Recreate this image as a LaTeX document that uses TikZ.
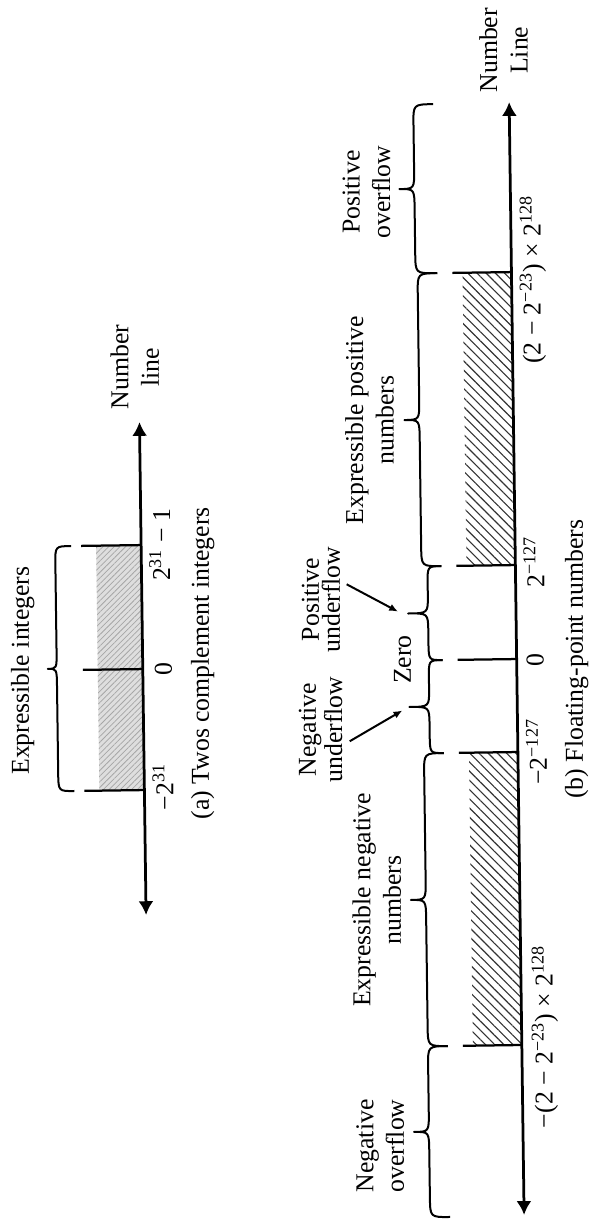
\documentclass[tikz,border=0pt]{standalone}
\usepackage{fontspec}
\setmainfont{Liberation Serif}
\usetikzlibrary{arrows.meta,patterns.meta}
% #1 tip x, #2 top y, #3 bottom y, #4 arm offset, #5 point offset, #6 corner length
\newcommand\bzbrace[6]{%
  \pgfmathsetmacro\bzxa{#1-#4}%
  \pgfmathsetmacro\bzxp{#1-#5}%
  \pgfmathsetmacro\bzym{(#2+#3)/2}%
  \pgfmathsetmacro\bzya{#2+#6}%
  \pgfmathsetmacro\bzyb{\bzym-#6}%
  \pgfmathsetmacro\bzyc{\bzym+#6}%
  \pgfmathsetmacro\bzyd{#3-#6}%
  \draw[bracestyle] (#1,#2) .. controls (\bzxa,#2) .. (\bzxa,\bzya) -- (\bzxa,\bzyb)
     .. controls (\bzxa,\bzym) .. (\bzxp,\bzym) .. controls (\bzxa,\bzym) .. (\bzxa,\bzyc)
     -- (\bzxa,\bzyd) .. controls (\bzxa,#3) .. (#1,#3);%
}
\begin{document}
\begin{tikzpicture}[x=0.4pt,y=-0.4pt,
  lbl/.style={rotate=90,align=center,inner sep=0pt,font=\fontsize{10.3}{12.2}\selectfont},
  tightlbl/.style={lbl,font=\fontsize{10.3}{8.4}\selectfont},
  ticklbl/.style={rotate=90,inner sep=0pt,anchor=base,font=\fontsize{10.3}{12}\selectfont},
  numline/.style={line width=1.1pt,<->,>={Latex[length=5.5pt,width=6pt]}},
  tickline/.style={line width=0.9pt},
  bracestyle/.style={line width=0.8pt,line join=round},
  hatchb/.style={pattern={Lines[angle=-45,distance=2.6pt,line width=0.45pt]},pattern color=black!80},
  hatcha/.style={preaction={fill=black!13},pattern={Lines[angle=45,distance=1.6pt,line width=0.3pt]},pattern color=black!35},
  uarrow/.style={line width=0.8pt,-{Latex[length=3.5pt,width=3pt]}}
]
\fill[white] (0,0) rectangle (592,1221);
\useasboundingbox (0,0) rectangle (592,1221);
\begin{scope}[rotate around={0.77:(296,610)}]
% ---------------- (a) Twos complement integers ----------------
\fill[hatcha] (97,543) rectangle (142,788);
\coordinate (a-lo) at (142,913);
\coordinate (a-hi) at (142,420);
\draw[numline] (a-lo) -- (a-hi);
\draw[tickline] (82,543) -- (142,543);
\draw[tickline] (82,667) -- (142,667);
\draw[tickline] (82,788) -- (142,788);
\bzbrace{72}{543}{788}{16}{25}{18}
\node[lbl] (a-nl) at (138,365) {Number\\line};
\node[lbl] (a-ei) at (22,667) {Expressible integers};
\node[ticklbl] (a-min) at (171,785) {−2\textsuperscript{31}};
\node[ticklbl] (a-zero) at (171,667) {0};
\node[ticklbl] (a-max) at (171,543) {2\textsuperscript{31} − 1};
\node[lbl] (a-cap) at (202,662) {(a) Twos complement integers};
% ---------------- (b) Floating-point numbers ----------------
\fill[hatchb] (467,275) rectangle (516,568);
\fill[hatchb] (467,755) rectangle (516,1048);
\coordinate (b-lo) at (516,1218);
\coordinate (b-hi) at (516,105);
\draw[numline] (b-lo) -- (b-hi);
\foreach \yy in {275,568,662,755,1048}{\draw[tickline] (457,\yy) -- (516,\yy);}
\bzbrace{440}{106}{275}{20}{35}{20}
\bzbrace{442}{275}{568}{20}{35}{20}
\bzbrace{442}{568}{662}{14}{34}{18}
\bzbrace{442}{662}{755}{14}{34}{18}
\bzbrace{442}{755}{1048}{20}{35}{20}
\bzbrace{442}{1048}{1219}{20}{35}{20}
\node[lbl] (b-nl) at (511,53) {Number\\Line};
\node[lbl] (b-po) at (372,193) {Positive\\overflow};
\node[lbl] (b-ep) at (372,421) {Expressible positive\\numbers};
\node[tightlbl] (b-pu) at (321,600) {Positive\\underflow};
\node[lbl] (b-z) at (402,661) {Zero};
\node[tightlbl] (b-nu) at (319,730) {Negative\\underflow};
\node[lbl] (b-en) at (373,901) {Expressible negative\\numbers};
\node[lbl] (b-no) at (373,1147) {Negative\\overflow};
\coordinate (pu-s) at (347,585);
\coordinate (pu-e) at (398,613);
\coordinate (nu-s) at (348,742);
\coordinate (nu-e) at (401,712);
\draw[uarrow] (pu-s) -- (pu-e);
\draw[uarrow] (nu-s) -- (nu-e);
\node[ticklbl] (b-max) at (545,283) {(2 − 2\textsuperscript{−23}) × 2\textsuperscript{128}};
\node[ticklbl] (b-sp) at (545,565) {2\textsuperscript{−127}};
\node[ticklbl] (b-zero) at (543,663) {0};
\node[ticklbl] (b-sn) at (545,755) {−2\textsuperscript{−127}};
\node[ticklbl] (b-min) at (547,1040) {−(2 − 2\textsuperscript{−23}) × 2\textsuperscript{128}};
\node[lbl] (b-cap) at (576,663) {(b) Floating-point numbers};
\end{scope}
\end{tikzpicture}
\end{document}
